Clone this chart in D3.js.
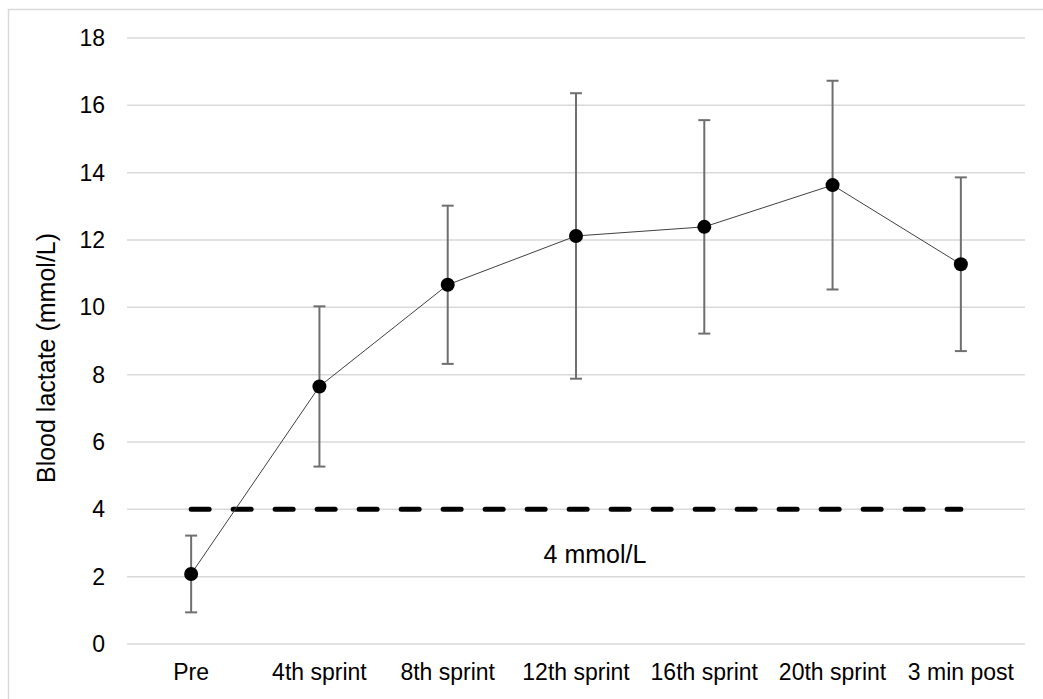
<!DOCTYPE html>
<html>
<head>
<meta charset="utf-8">
<script src="https://cdn.jsdelivr.net/npm/d3@7"></script>
<style>
  html, body { margin: 0; padding: 0; background: #fff; }
  svg { display: block; font-family: "Liberation Sans", Arial, sans-serif; }
</style>
</head>
<body>
<div id="chart"></div>
<script>
// Data
const categories = ["Pre", "4th sprint", "8th sprint", "12th sprint", "16th sprint", "20th sprint", "3 min post"];
const meanValues = [2.08, 7.65, 10.67, 12.12, 12.39, 13.63, 11.28];
const sdValues = [1.14, 2.38, 2.35, 4.24, 3.17, 3.1, 2.58];
const thresholdValues = [4, 4, 4, 4, 4, 4, 4];
const yTicks = [0, 2, 4, 6, 8, 10, 12, 14, 16, 18];

const width = 1043;
const height = 699;
const margin = { top: 38, right: 18, bottom: 55, left: 127 };

const svg = d3.select("#chart")
  .append("svg")
  .attr("width", width)
  .attr("height", height);

// Outer chart border (cropped at right/bottom)
svg.append("rect")
  .attr("x", 8.5)
  .attr("y", 9.5)
  .attr("width", width + 20)
  .attr("height", height + 20)
  .attr("fill", "none")
  .attr("stroke", "#d9d9d9")
  .attr("stroke-width", 1.5);

const x = d3.scaleBand()
  .domain(categories)
  .range([margin.left, width - margin.right]);

const y = d3.scaleLinear()
  .domain([0, 18])
  .range([height - margin.bottom, margin.top]);

const cx = d => x(d) + x.bandwidth() / 2;

// Gridlines
svg.append("g")
  .selectAll("line")
  .data(yTicks)
  .join("line")
  .attr("x1", margin.left)
  .attr("x2", width - margin.right)
  .attr("y1", d => y(d))
  .attr("y2", d => y(d))
  .attr("stroke", "#d9d9d9")
  .attr("stroke-width", 1.5);

// Y tick labels
svg.append("g")
  .selectAll("text")
  .data(yTicks)
  .join("text")
  .attr("x", 105)
  .attr("y", d => y(d))
  .attr("dy", "0.35em")
  .attr("text-anchor", "end")
  .attr("font-size", "23px")
  .attr("fill", "#000")
  .text(d => d);

// X category labels
svg.append("g")
  .selectAll("text")
  .data(categories)
  .join("text")
  .attr("x", d => cx(d))
  .attr("y", 680)
  .attr("text-anchor", "middle")
  .attr("font-size", "23px")
  .attr("fill", "#000")
  .text(d => d);

// Y axis title
svg.append("text")
  .attr("transform", "translate(55,358) rotate(-90)")
  .attr("text-anchor", "middle")
  .attr("font-size", "25px")
  .attr("fill", "#000")
  .text("Blood lactate (mmol/L)");

// 4 mmol/L threshold line
const line = d3.line()
  .x((d, i) => cx(categories[i]))
  .y(d => y(d));

svg.append("path")
  .datum(thresholdValues)
  .attr("d", line)
  .attr("fill", "none")
  .attr("stroke", "#000")
  .attr("stroke-width", 5)
  .attr("stroke-linecap", "round")
  .attr("stroke-dasharray", "18,24");

svg.append("text")
  .attr("x", 595)
  .attr("y", 563)
  .attr("text-anchor", "middle")
  .attr("font-size", "25px")
  .attr("fill", "#000")
  .text("4 mmol/L");

// Mean line
svg.append("path")
  .datum(meanValues)
  .attr("d", line)
  .attr("fill", "none")
  .attr("stroke", "#404040")
  .attr("stroke-width", 1);

// Error bars
const eb = svg.append("g")
  .attr("stroke", "#6f6f6f")
  .attr("stroke-width", 2);

eb.selectAll("line.err")
  .data(meanValues)
  .join("line")
  .attr("class", "err")
  .attr("x1", (d, i) => cx(categories[i]))
  .attr("x2", (d, i) => cx(categories[i]))
  .attr("y1", (d, i) => y(d + sdValues[i]))
  .attr("y2", (d, i) => y(d - sdValues[i]));

eb.selectAll("line.cap-top")
  .data(meanValues)
  .join("line")
  .attr("class", "cap-top")
  .attr("x1", (d, i) => cx(categories[i]) - 6)
  .attr("x2", (d, i) => cx(categories[i]) + 6)
  .attr("y1", (d, i) => y(d + sdValues[i]))
  .attr("y2", (d, i) => y(d + sdValues[i]));

eb.selectAll("line.cap-bottom")
  .data(meanValues)
  .join("line")
  .attr("class", "cap-bottom")
  .attr("x1", (d, i) => cx(categories[i]) - 6)
  .attr("x2", (d, i) => cx(categories[i]) + 6)
  .attr("y1", (d, i) => y(d - sdValues[i]))
  .attr("y2", (d, i) => y(d - sdValues[i]));

// Markers
svg.append("g")
  .selectAll("circle")
  .data(meanValues)
  .join("circle")
  .attr("cx", (d, i) => cx(categories[i]))
  .attr("cy", d => y(d))
  .attr("r", 7)
  .attr("fill", "#000");
</script>
</body>
</html>
